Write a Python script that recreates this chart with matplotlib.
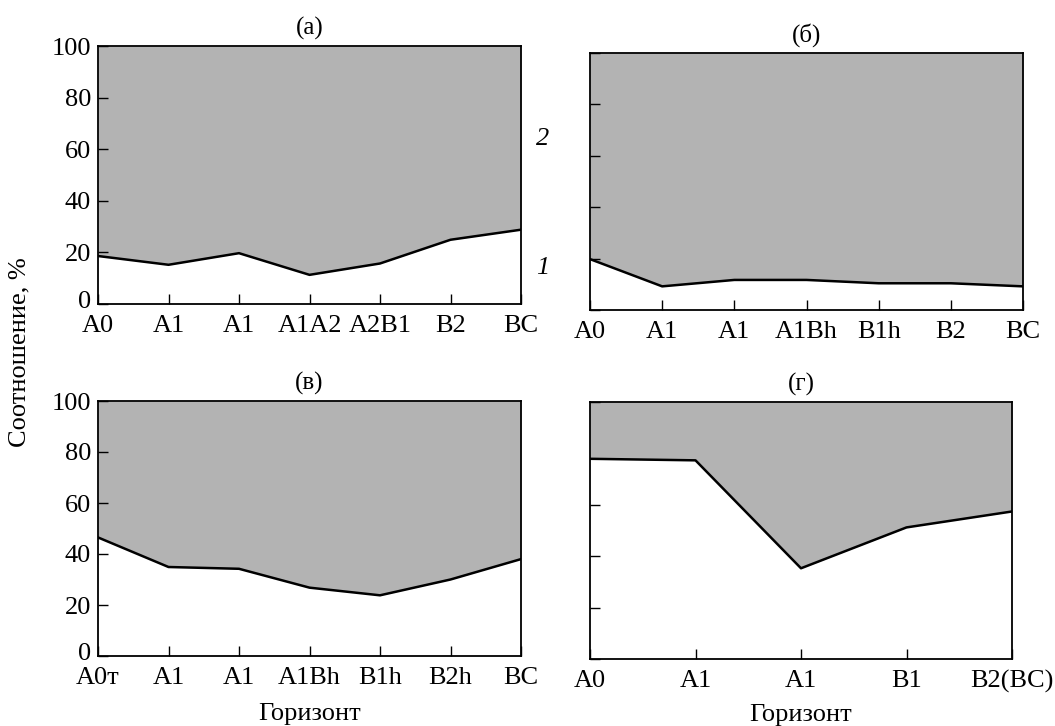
import numpy as np
import matplotlib
matplotlib.use('Agg')
import matplotlib.pyplot as plt
import matplotlib.transforms as mtransforms

plt.rcParams['font.family'] = ['Liberation Serif', 'DejaVu Serif']
plt.rcParams['font.size'] = 19

# Data: share of fraction 1 (%); fraction 2 is the rest up to 100
labels_a = ['A0', 'A1', 'A1', 'A1A2', 'A2B1', 'B2', 'BC']
values_a = [18.6, 15.2, 19.7, 11.3, 15.7, 24.9, 28.8]

labels_b = ['A0', 'A1', 'A1', 'A1Bh', 'B1h', 'B2', 'BC']
values_b = [19.8, 9.2, 11.7, 11.7, 10.4, 10.4, 9.2]

labels_v = ['A0т', 'A1', 'A1', 'A1Bh', 'B1h', 'B2h', 'BC']
values_v = [46.5, 34.9, 34.2, 26.8, 23.8, 30.0, 38.0]

labels_g = ['A0', 'A1', 'A1', 'B1', 'B2(BC)']
values_g = [77.9, 77.3, 35.3, 51.2, 57.4]

W, H = 1055, 726
fig = plt.figure(figsize=(W / 100, H / 100), dpi=100)


def rect(l, t, r, b):
    return [l / W, 1 - b / H, (r - l) / W, (b - t) / H]


def panel(pos, labels, values, title, yticks, show_ylabels):
    ax = fig.add_axes(rect(*pos))
    x = np.arange(len(labels))
    ax.fill_between(x, values, 100, color='#b3b3b3', linewidth=0, zorder=1)
    ax.plot(x, values, color='black', linewidth=1.8, zorder=2)
    ax.set_xlim(0, len(labels) - 1)
    ax.set_ylim(0, 100)
    ax.set_xticks(x)
    ax.set_xticklabels(labels)
    ax.set_yticks(yticks)
    ax.tick_params(direction='in', length=7, width=1.0, labelsize=19)
    ax.tick_params(axis='x', pad=8)
    ax.tick_params(axis='y', pad=5)
    if show_ylabels:
        ax.set_yticklabels([str(v) for v in yticks])
        # lift the "0" a touch so it does not run into the first x label
        lbl0 = ax.yaxis.get_major_ticks()[0].label1
        lbl0.set_transform(lbl0.get_transform() +
                           mtransforms.ScaledTranslation(0, 3 / 72, fig.dpi_scale_trans))
    else:
        ax.set_yticklabels([])
    for s in ax.spines.values():
        s.set_linewidth(1.3)
    ax.set_title(title, fontsize=18, pad=8)
    return ax


ax_a = panel((98, 46, 521, 304), labels_a, values_a, '(а)', [0, 20, 40, 60, 80, 100], True)
ax_b = panel((590, 53, 1023, 310), labels_b, values_b, '(б)', [0, 20, 40, 60, 80, 100], False)
ax_v = panel((98, 401, 521, 656), labels_v, values_v, '(в)', [0, 20, 40, 60, 80, 100], True)
ax_g = panel((590, 402, 1012, 659), labels_g, values_g, '(г)', [0, 20, 40, 60, 100], False)

# curve numbers
ax_a.text(1.035, 0.64, '2', transform=ax_a.transAxes, fontsize=19, style='italic', va='center')
ax_a.text(1.035, 0.14, '1', transform=ax_a.transAxes, fontsize=19, style='italic', va='center')

ax_v.set_xlabel('Горизонт', fontsize=19, labelpad=10)
ax_g.set_xlabel('Горизонт', fontsize=19, labelpad=8)

fig.text(19 / W, 1 - 352 / H, 'Соотношение, %', rotation=90, fontsize=19,
         ha='center', va='center')

fig.savefig('out.png', dpi=100, facecolor='white')
